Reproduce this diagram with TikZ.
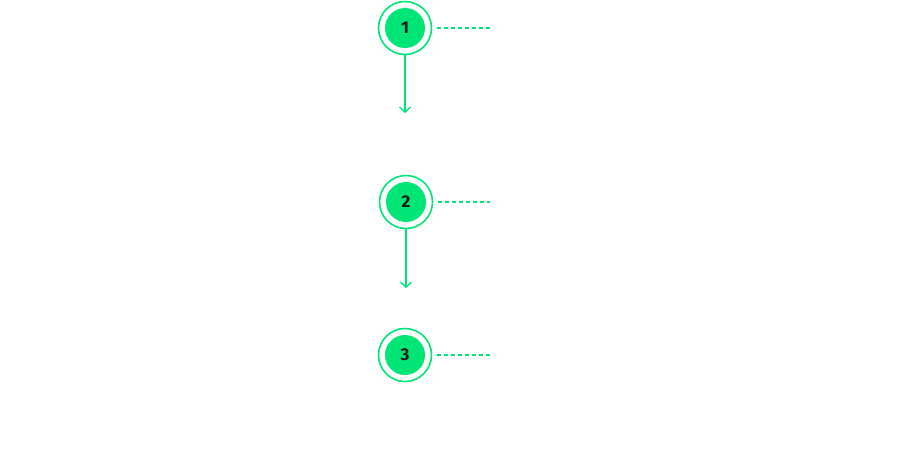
\documentclass[tikz,border=0pt]{standalone}
\usepackage{fontspec}
\setsansfont{Fira Sans}
\usetikzlibrary{arrows.meta}
\definecolor{gr}{HTML}{00E676}
\definecolor{dk}{HTML}{1A1A1A}
\begin{document}
\begin{tikzpicture}[x=1pt,y=-1pt,
  ring/.style={circle,draw=gr,line width=1.6pt,fill=white,minimum size=53pt,inner sep=0pt},
  num/.style={circle,fill=gr,minimum size=40pt,inner sep=0pt,font=\sffamily\bfseries\fontsize{17}{17}\selectfont,text=dk},
  conn/.style={draw=gr,line width=1.3pt,-{Straight Barb[length=5pt,width=11pt,line width=1.3pt]}},
  dashline/.style={draw=gr,line width=1.3pt,dash pattern=on 4pt off 3pt}]
\useasboundingbox (0,0) rectangle (920,461);
\node[ring] (r1) at (405,28) {};
\node[num] (n1) at (405,28) {1};
\node[ring] (r2) at (406,202) {};
\node[num] (n2) at (406,202) {2};
\node[ring] (r3) at (405,355) {};
\node[num] (n3) at (405,355) {3};
\coordinate (a1) at (405,113);
\coordinate (a2) at (406,288);
\draw[conn] (r1.south) -- (a1);
\draw[conn] (r2.south) -- (a2);
\coordinate (d1) at (490,28);
\coordinate (d2) at (490,202);
\coordinate (d3) at (490,355);
\draw[dashline] ([xshift=5pt]r1.east) -- (d1);
\draw[dashline] ([xshift=5pt]r2.east) -- (d2);
\draw[dashline] ([xshift=5pt]r3.east) -- (d3);
\end{tikzpicture}
\end{document}
